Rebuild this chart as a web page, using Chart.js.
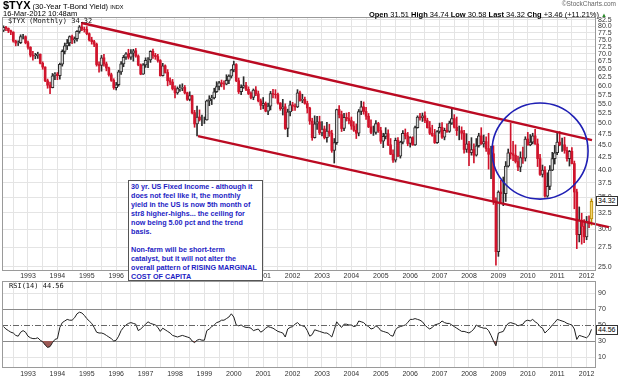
<!DOCTYPE html>
<html>
<head>
<meta charset="utf-8">
<title>$TYX 30-Year T-Bond Yield</title>
<script src="https://cdn.jsdelivr.net/npm/chart.js@4.4.1/dist/chart.umd.min.js"></script>
<style>
html,body{margin:0;padding:0;background:#fff;}
#wrap{position:relative;width:620px;height:380px;overflow:hidden;background:#fff;font-family:"Liberation Sans",Arial,sans-serif;}
#wrap canvas{position:absolute;left:0;top:0;}
.t{position:absolute;white-space:nowrap;color:#000;}
.mono{font-family:"DejaVu Sans Mono",monospace;font-size:7px;line-height:8px;color:#111;}
.tag{position:absolute;font-size:7px;line-height:8px;border:1px solid #333;background:#fff;padding:0 1px;color:#000;}
#note{position:absolute;left:128px;top:180px;width:131px;height:98px;border:1px solid #555;background:#fff;color:#1d1dc4;font-weight:bold;font-size:7.2px;line-height:9px;padding:1px 0 0 2px;white-space:nowrap;overflow:hidden;}
</style>
</head>
<body>
<div id="wrap">
<canvas id="rsi" width="620" height="380"></canvas>
<canvas id="main" width="620" height="380"></canvas>

<div class="t" style="left:3px;top:0px;font-size:11px;line-height:11px;font-weight:bold;">$TYX<span style="font-weight:normal;font-size:7.5px;"> (30-Year T-Bond Yield) </span><span style="font-weight:normal;font-size:5.5px;">INDX</span></div>
<div class="t" style="left:3px;top:9px;font-size:7.5px;line-height:9px;">16-Mar-2012 10:48am</div>
<div class="t" style="right:4px;top:0px;font-size:6.5px;line-height:8px;color:#666;">©StockCharts.com</div>
<div class="t" style="right:13px;top:10px;font-size:7.5px;line-height:9px;"><b>Open</b> 31.51 <b>High</b> 34.74 <b>Low</b> 30.58 <b>Last</b> 34.32 <b>Chg</b> +3.46 (+11.21%) <span style="font-size:6px;color:#2a8a2a;">▲</span></div>

<div class="t mono" style="left:8px;top:17px;">$TYX (Monthly) 34.32</div>
<div class="t mono" style="left:9px;top:282px;">RSI(14) 44.56</div>

<div class="tag" style="left:596px;top:196px;">34.32</div>
<div class="tag" style="left:596px;top:325px;">44.56</div>

<div id="note">30 yr. US Fixed Income - although it<br>does not feel like it, the monthly<br>yield in the US is now 5th month of<br>str8 higher-highs... the ceiling for<br>now being 5.00 pct and the trend<br>basis.<br><br>Non-farm will be short-term<br>catalyst, but it will not alter the<br>overall pattern of RISING MARGINAL<br>COST OF CAPITA</div>
</div>

<script>
// ---------------- DATA (monthly bars, Mar 1992 .. Mar 2012) ----------------
const firstMonth = '1992-03';
const yearLabels = ['1993','1994','1995','1996','1997','1998','1999','2000','2001','2002',
                    '2003','2004','2005','2006','2007','2008','2009','2010','2011','2012'];
const priceTicks = [25,27.5,30,32.5,35,37.5,40,42.5,45,47.5,50,52.5,55,57.5,60,62.5,65,67.5,70,72.5,75,77.5,80,82.5];
const rsiTicks = [10,30,50,70,90];

const opens = [
 78.4,79.6,79.2,78.3,77.8,74.5,73.8,73.9,76.1,76.1,
 73.9,72.3,69.6,69.3,69.5,69.9,66.9,65.7,61.5,60.2,59.5,63.0,
 63.5,63.0,66.6,70.9,72.8,73.8,76.1,74.9,75.4,78.1,79.8,78.9,
 78.8,77.2,74.9,74.3,73.4,66.5,66.2,68.7,66.7,65.4,63.3,61.6,
 59.5,60.3,64.2,66.7,68.9,70.0,68.9,70.3,71.1,69.3,66.4,63.5,
 66.4,67.9,68.0,70.9,69.5,69.1,67.8,63.0,66.1,64.0,61.5,61.1,
 59.2,58.0,59.2,59.3,59.5,58.0,56.2,57.2,52.7,49.9,51.6,50.9,
 50.9,50.9,55.8,56.3,56.6,58.3,59.8,60.9,60.6,60.5,61.6,62.9,
 64.8,66.5,61.5,58.3,59.6,60.1,59.0,57.8,56.7,58.8,57.7,55.8,
 54.6,55.1,53.1,54.4,57.8,57.6,57.5,55.2,53.7,54.2,48.8,52.9,
 54.7,54.4,54.2,58.0,55.9,56.2,55.1,53.9,50.6,46.7,49.9,50.4,
 47.8,48.7,46.7,48.2,47.7,43.9,45.6,53.5,52.2,48.8,51.5,51.2,
 50.7,49.4,48.4,47.7,53.0,54.2,53.0,51.8,49.2,47.9,47.9,50.0,
 48.3,45.9,47.0,47.6,45.1,43.1,41.9,46.1,42.7,45.7,47.7,47.1,
 45.4,46.7,45.1,49.0,51.6,51.4,51.9,50.7,49.0,47.7,47.2,45.6,
 48.1,49.1,46.8,48.4,48.1,50.1,51.2,49.1,48.3,48.3,47.7,44.1,
 45.3,43.4,44.1,42.9,44.9,47.1,45.3,45.8,44.3,43.1,43.2,34.4,
 26.9,35.9,35.6,35.6,40.7,43.4,43.2,42.9,41.6,40.5,42.4,42.3,
 46.4,45.1,45.7,47.1,45.3,42.2,39.1,39.9,35.2,36.9,39.9,42.2,
 43.4,45.7,45.1,45.1,43.9,42.2,43.7,41.2,35.9,29.2,31.3,30.4,
 28.9,31.1,31.51
];
const highs = [
 80.2,80.0,79.4,78.6,77.9,74.8,74.6,76.8,77.0,76.4,
 74.5,72.5,70.9,70.2,70.6,70.0,67.4,65.8,62.0,61.1,63.7,64.0,
 64.0,67.0,71.4,73.8,75.1,76.4,76.7,76.0,78.4,80.3,81.6,79.7,
 79.9,77.5,75.9,74.8,73.8,67.4,69.5,69.9,67.3,65.7,63.8,62.1,
 61.0,64.7,67.5,69.5,70.5,71.6,71.5,71.6,71.9,69.7,66.7,66.8,
 68.7,68.8,71.1,71.7,70.2,69.9,68.1,66.9,66.4,64.9,62.4,61.9,
 60.0,59.7,60.3,60.6,60.1,58.2,58.3,57.3,53.3,54.4,53.4,52.1,
 51.6,56.0,57.2,57.3,59.3,61.2,61.3,61.7,61.5,63.3,63.3,65.0,
 67.6,66.8,62.3,60.3,62.7,61.0,59.7,58.3,59.1,59.8,58.5,56.3,
 56.7,55.5,55.2,58.4,59.0,58.9,57.9,55.3,56.2,55.0,53.6,55.7,
 55.4,55.0,58.9,58.5,57.6,56.8,55.7,54.1,51.3,51.9,51.8,51.8,
 50.5,49.4,50.3,49.8,48.4,46.5,53.6,54.5,53.1,52.5,52.6,52.8,
 51.6,50.5,49.9,53.5,55.7,55.5,54.1,52.5,50.9,49.4,50.7,50.3,
 49.1,47.7,49.0,48.5,46.5,44.0,46.6,46.7,45.9,48.3,48.7,47.9,
 46.9,46.9,49.4,51.9,52.5,52.6,52.9,51.3,50.5,49.6,48.6,48.3,
 50.1,50.2,48.9,49.9,50.6,53.7,52.2,51.6,49.4,49.2,48.4,47.6,
 45.9,46.7,45.3,46.5,47.7,49.0,47.3,46.9,47.7,44.8,44.9,34.9,
 36.1,38.0,38.6,41.6,44.2,50.1,45.9,45.1,42.7,43.6,44.6,46.9,
 47.9,47.4,47.7,48.6,46.4,43.1,40.9,40.6,39.4,40.8,43.5,45.0,
 47.8,48.1,46.6,46.8,44.6,43.9,44.5,41.7,36.4,33.4,32.4,31.4,
 31.9,32.0,34.74
];
const lows = [
 78.0,78.3,77.6,76.8,74.1,72.8,72.9,73.6,75.3,73.5,
 71.6,69.0,67.9,68.4,68.5,66.7,65.0,61.2,59.3,57.8,59.4,61.8,
 61.8,62.0,66.0,70.0,71.5,72.8,73.6,73.8,74.5,77.4,78.3,77.8,
 76.8,74.5,73.4,72.5,66.0,64.1,64.4,66.0,64.5,62.9,61.3,59.0,
 58.8,59.9,63.4,65.8,68.2,68.3,68.2,67.6,68.9,66.1,63.3,63.4,
 65.6,65.5,67.2,68.5,68.2,67.3,62.9,62.9,63.8,60.0,60.3,58.8,
 56.6,57.6,58.4,58.6,57.7,55.9,55.8,52.4,49.1,47.1,50.6,49.5,
 50.0,50.8,54.5,54.8,56.3,58.1,58.8,59.7,59.0,60.3,60.6,62.3,
 64.2,61.2,57.8,57.5,59.3,58.6,57.5,56.3,56.1,57.2,55.5,53.5,
 53.7,52.9,52.2,53.4,56.6,56.5,54.9,53.3,52.1,48.6,46.9,51.9,
 53.2,53.3,54.0,55.7,55.3,54.9,52.6,49.8,46.1,46.6,48.6,47.4,
 47.1,46.4,45.7,47.0,43.5,41.3,45.2,51.4,48.1,48.3,50.6,49.9,
 48.6,48.1,46.5,47.1,52.2,52.3,51.0,49.0,47.6,47.2,47.5,47.9,
 45.4,44.5,46.4,44.9,43.0,41.4,41.5,42.6,42.3,45.3,46.4,44.9,
 44.6,45.0,45.0,48.9,50.8,50.5,50.2,48.9,47.4,47.0,45.4,45.4,
 47.7,46.5,46.2,47.9,47.9,49.8,48.9,47.2,46.2,46.3,43.3,43.5,
 40.8,42.9,41.3,42.7,44.6,45.2,44.6,43.7,40.1,38.3,33.8,25.2,
 26.3,34.1,33.6,34.3,40.5,42.1,41.8,41.3,39.8,39.6,41.2,41.7,
 45.0,44.9,45.3,45.2,40.6,38.9,38.6,35.0,35.0,36.3,39.8,41.1,
 43.0,44.9,43.7,43.3,41.7,40.7,41.1,33.1,27.3,28.2,27.9,28.1,
 28.5,30.2,30.58
];
const closes = [
 79.6,79.2,78.3,77.8,74.5,73.8,73.9,76.1,76.1,73.9,
 72.3,69.6,69.3,69.5,69.9,66.9,65.7,61.5,60.2,59.5,63.0,63.5,
 63.0,66.6,70.9,72.8,73.8,76.1,74.9,75.4,78.1,79.8,78.9,78.8,
 77.2,74.9,74.3,73.4,66.5,66.2,68.7,66.7,65.4,63.3,61.6,59.5,
 60.3,64.2,66.7,68.9,70.0,68.9,70.3,71.1,69.3,66.4,63.5,66.4,
 67.9,68.0,70.9,69.5,69.1,67.8,63.0,66.1,64.0,61.5,61.1,59.2,
 58.0,59.2,59.3,59.5,58.0,56.2,57.2,52.7,49.9,51.6,50.9,50.9,
 50.9,55.8,56.3,56.6,58.3,59.8,60.9,60.6,60.5,61.6,62.9,64.8,
 66.5,61.5,58.3,59.6,60.1,59.0,57.8,56.7,58.8,57.7,55.8,54.6,
 55.1,53.1,54.4,57.8,57.6,57.5,55.2,53.7,54.2,48.8,52.9,54.7,
 54.4,54.2,58.0,55.9,56.2,55.1,53.9,50.6,46.7,49.9,50.4,47.8,
 48.7,46.7,48.2,47.7,43.9,45.6,53.5,52.2,48.8,51.5,51.2,50.7,
 49.4,48.4,47.7,53.0,54.2,53.0,51.8,49.2,47.9,47.9,50.0,48.3,
 45.9,47.0,47.6,45.1,43.1,41.9,46.1,42.7,45.7,47.7,47.1,45.4,
 46.7,45.1,49.0,51.6,51.4,51.9,50.7,49.0,47.7,47.2,45.6,48.1,
 49.1,46.8,48.4,48.1,50.1,51.2,49.1,48.3,48.3,47.7,44.1,45.3,
 43.4,44.1,42.9,44.9,47.1,45.3,45.8,44.3,43.1,43.2,34.4,26.9,
 35.9,35.6,35.6,40.7,43.4,43.2,42.9,41.6,40.5,42.4,42.3,46.4,
 45.1,45.7,47.1,45.3,42.2,39.1,39.9,35.2,36.9,39.9,42.2,43.4,
 45.7,45.1,45.1,43.9,42.2,43.7,41.2,35.9,29.2,31.3,30.4,28.9,
 31.1,30.86,34.32
];
const rsi14 = [
 48,45,43,41,40,37,36,41,43,41,
 36,34,33,33,34,31,29,25,22,23,28,32,
 33,47,53,55,57,56,56,59,64,66,65,62,
 58,55,52,47,41,40,40,39,37,35,33,30,
 31,36,43,47,50,52,53,52,51,43,45,48,
 51,54,52,51,50,47,42,46,44,42,40,37,
 36,35,36,37,36,35,34,30,28,31,32,31,
 31,43,45,48,50,53,54,56,56,58,60,64,
 60,50,49,50,48,47,47,46,43,44,45,41,
 43,46,48,47,46,44,42,41,40,35,45,47,
 48,51,53,50,49,48,43,36,38,44,43,42,
 41,40,40,38,35,44,54,50,47,51,51,50,
 50,48,49,55,54,53,50,48,45,46,49,47,
 43,42,41,40,37,36,44,47,48,49,50,53,
 57,57,58,57,56,54,50,47,45,47,50,51,
 52,55,53,52,52,50,48,46,44,42,42,41,
 40,42,45,50,48,47,46,46,43,37,30,24,
 40,41,42,48,52,53,52,51,49,50,51,55,
 56,55,57,54,52,48,46,40,43,46,50,53,
 57,56,55,54,52,51,50,45,32,37,36,35,
 34,37,44.56
];

// hand-drawn annotations (month index, price value)
const upperTrendMonths = [32.0, 240.2];
const upperTrendValues = [81.3, 46.15];
const lowerTrendMonths = [79.4, 247.1];
const lowerTrendValues = [47.06, 30.29];
const circleMonths = [199.4, 238.6];   // left, right
const circleValues = [55.2, 34.69];    // top, bottom

// ---------------- CHART ----------------
const JAN1993 = 10;            // index of Jan 1993 in the series
const X_MIN = -0.61, X_MAX = 241.84;
const RED = '#d0142c', UPLINE = '#2b2b2b', UPFILL = '#d6d6d6', CUR_LINE = '#b88a00', CUR_FILL = '#f2d46e';
const FONT = 'Liberation Sans';
const N = closes.length, LAST = N - 1;

const janIdx = yearLabels.map((y, k) => JAN1993 + 12 * k);
function buildXTicks(scale) {
  const t = [];
  janIdx.forEach(j => { t.push({value: j - 6}); t.push({value: j}); });
  scale.ticks = t;
}
function xLabel(v) { const k = janIdx.indexOf(v); return k >= 0 ? yearLabels[k] : ''; }
function zeroPad(s) { s.paddingLeft = 0; s.paddingRight = 0; s.paddingTop = 0; s.paddingBottom = 0; }

function xScale(pad) {
  return {
    type: 'linear', min: X_MIN, max: X_MAX, offset: false,
    grid: {color: '#e4e4e4', lineWidth: 1, drawTicks: false, offset: false},
    border: {display: false},
    ticks: {autoSkip: false, maxRotation: 0, minRotation: 0, padding: pad, color: '#333', font: {family: FONT, size: 7}, callback: xLabel},
    afterBuildTicks: buildXTicks,
    afterFit: s => { s.height = 10; zeroPad(s); }
  };
}

const upBodies = [], downBodies = [], wicks = [];
for (let i = 0; i < N; i++) {
  wicks.push({x: i, y: [lows[i], highs[i]], i: i});
  const b = {x: i, y: [opens[i], closes[i]], i: i};
  if (closes[i] >= opens[i]) upBodies.push(b); else downBodies.push(b);
}

const framePlugin = {
  id: 'frame',
  afterDatasetsDraw(chart, args, opts) {
    const {ctx, chartArea: a, scales} = chart;
    ctx.save();
    if (opts.dash50) {
      const y = Math.round(scales.y.getPixelForValue(50)) + 0.5;
      ctx.strokeStyle = '#666'; ctx.lineWidth = 1; ctx.setLineDash([6, 2, 1, 2]);
      ctx.beginPath(); ctx.moveTo(a.left, y); ctx.lineTo(a.right, y); ctx.stroke();
      ctx.setLineDash([]);
    }
    if (opts.circle) {
      const xl = scales.x.getPixelForValue(circleMonths[0]), xr = scales.x.getPixelForValue(circleMonths[1]);
      const yt = scales.y.getPixelForValue(circleValues[0]), yb = scales.y.getPixelForValue(circleValues[1]);
      ctx.strokeStyle = '#1f1fb4'; ctx.lineWidth = 1.6;
      ctx.beginPath();
      ctx.ellipse((xl + xr) / 2, (yt + yb) / 2, (xr - xl) / 2, (yb - yt) / 2, 0, 0, Math.PI * 2);
      ctx.stroke();
    }
    ctx.strokeStyle = '#9a9a9a'; ctx.lineWidth = 1;
    ctx.strokeRect(Math.round(a.left) + 0.5, Math.round(a.top) + 0.5, Math.round(a.right - a.left) - 1, Math.round(a.bottom - a.top) - 1);
    ctx.restore();
  }
};

new Chart(document.getElementById('main'), {
  type: 'bar',
  data: {
    datasets: [
      {type: 'line', data: upperTrendMonths.map((m, k) => ({x: m, y: upperTrendValues[k]})),
       borderColor: '#bb0a22', borderWidth: 2.4, pointRadius: 0, clip: false, order: 0},
      {type: 'line', data: lowerTrendMonths.map((m, k) => ({x: m, y: lowerTrendValues[k]})),
       borderColor: '#bb0a22', borderWidth: 2.4, pointRadius: 0, clip: false, order: 0},
      {data: downBodies, backgroundColor: RED, barThickness: 2, grouped: false, order: 1},
      {data: upBodies, barThickness: 3, grouped: false, order: 1, borderWidth: 1, borderSkipped: false,
       backgroundColor: c => (c.raw && c.raw.i === LAST) ? CUR_FILL : UPFILL,
       borderColor: c => (c.raw && c.raw.i === LAST) ? CUR_LINE : UPLINE},
      {data: wicks, barThickness: 1, grouped: false, order: 2,
       backgroundColor: c => { const i = c.raw ? c.raw.i : 0; return i === LAST ? CUR_LINE : (closes[i] >= opens[i] ? UPLINE : RED); }}
    ]
  },
  options: {
    responsive: false, animation: false, events: [],
    layout: {padding: {left: 2, right: 0, top: 17, bottom: 99}},
    plugins: {legend: {display: false}, tooltip: {enabled: false}, frame: {circle: true}},
    scales: {
      x: xScale(1),
      y: {
        type: 'logarithmic', position: 'right', min: 24.5, max: 83.7,
        grid: {color: '#e4e4e4', lineWidth: 1, drawTicks: false},
        border: {display: false},
        ticks: {autoSkip: false, padding: 2, color: '#333', font: {family: FONT, size: 7}, callback: v => Number(v).toFixed(1)},
        afterBuildTicks: s => { s.ticks = priceTicks.map(v => ({value: v})); },
        afterFit: s => { s.width = 24; zeroPad(s); }
      }
    }
  },
  plugins: [framePlugin]
});

new Chart(document.getElementById('rsi'), {
  type: 'line',
  data: {
    datasets: [{
      data: rsi14.map((v, i) => ({x: i, y: v})),
      borderColor: '#1e1e1e', borderWidth: 1, pointRadius: 0, tension: 0,
      fill: {target: {value: 30}, above: 'rgba(0,0,0,0)', below: '#9c5a55'}
    }]
  },
  options: {
    responsive: false, animation: false, events: [],
    layout: {padding: {left: 2, right: 0, top: 281, bottom: 2}},
    plugins: {legend: {display: false}, tooltip: {enabled: false}, frame: {dash50: true}},
    scales: {
      x: xScale(2),
      y: {
        type: 'linear', position: 'right', min: -3.75, max: 105,
        grid: {drawTicks: false, lineWidth: 1,
               color: c => { const v = c.tick && c.tick.value; return (v === 30 || v === 70) ? '#8a8a8a' : (v === 50 ? 'rgba(0,0,0,0)' : '#e4e4e4'); }},
        border: {display: false},
        ticks: {autoSkip: false, padding: 2, color: '#333', font: {family: FONT, size: 7}},
        afterBuildTicks: s => { s.ticks = rsiTicks.map(v => ({value: v})); },
        afterFit: s => { s.width = 24; zeroPad(s); }
      }
    }
  },
  plugins: [framePlugin]
});
</script>
</body>
</html>
